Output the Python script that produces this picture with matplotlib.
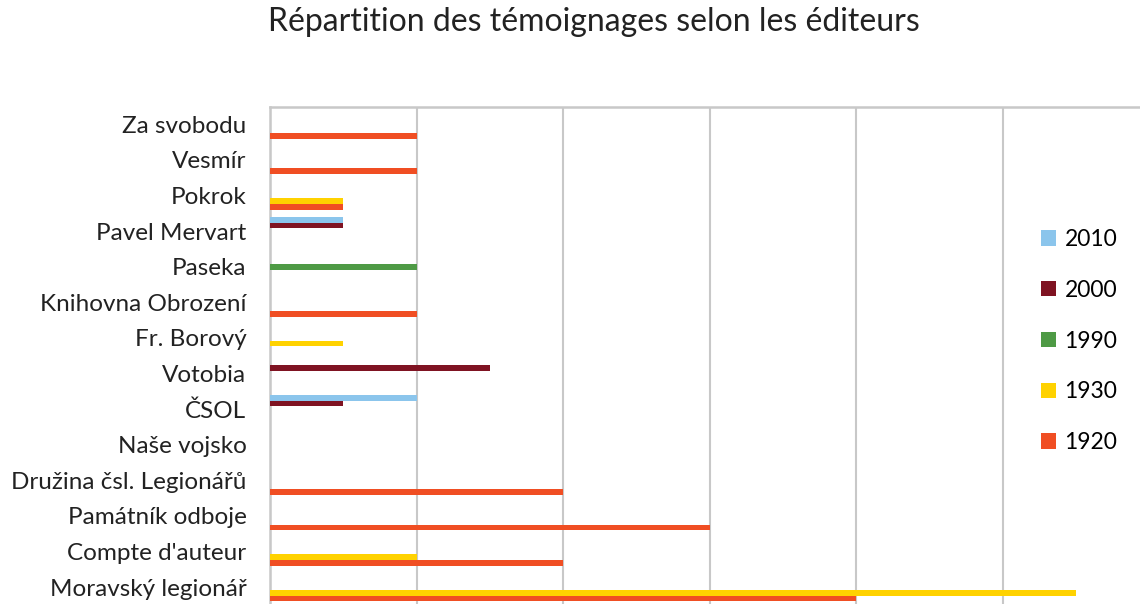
import numpy as np
import matplotlib
matplotlib.use("Agg")
import matplotlib.pyplot as plt
from matplotlib.patches import Patch

# publishers, top to bottom as in the chart
editeurs = ["Za svobodu", "Vesmír", "Pokrok", "Pavel Mervart", "Paseka",
            "Knihovna Obrození", "Fr. Borový", "Votobia", "ČSOL", "Naše vojsko",
            "Družina čsl. Legionářů", "Památník odboje", "Compte d'auteur",
            "Moravský legionář"]

v1920 = [2, 2, 1, 0, 0, 2, 0, 0, 0, 0, 4, 6, 4, 8]
v1930 = [0, 0, 1, 0, 0, 0, 1, 0, 0, 0, 0, 0, 2, 11]
v1990 = [0, 0, 0, 0, 2, 0, 0, 0, 0, 0, 0, 0, 0, 0]
v2000 = [0, 0, 0, 1, 0, 0, 0, 3, 1, 0, 0, 0, 0, 0]
v2010 = [0, 0, 0, 1, 0, 0, 0, 0, 2, 0, 0, 0, 0, 0]

series = [("1920", v1920, "#F04E23"),
          ("1930", v1930, "#FFD200"),
          ("1990", v1990, "#4E9A45"),
          ("2000", v2000, "#7F1322"),
          ("2010", v2010, "#8BC5EC")]

plt.rcParams['font.family'] = ['Lato', 'DejaVu Sans']

fig = plt.figure(figsize=(11.4, 6.04), dpi=100)
ax = fig.add_axes([270/1140, -1/604, 879.6/1140, 498.5/604])

n = len(editeurs)
y = np.arange(n)[::-1]
h = 0.16
for k, (nom, vals, col) in enumerate(series):
    ax.barh(y + (k - 2)*h, vals, height=h, color=col, zorder=3)

ax.set_ylim(-0.5, n - 0.5)
ax.set_xlim(0, 12)
ax.set_xticks(np.arange(0, 13, 2))
ax.set_yticks(y)
ax.set_yticklabels(editeurs, fontsize=17.5, color="#222222")
ax.tick_params(axis='y', length=0, pad=17)
ax.tick_params(axis='x', length=0, labelbottom=False)
ax.grid(axis='x', color="#C8C8C8", linewidth=1.5, zorder=0)
for s in ["right", "bottom"]:
    ax.spines[s].set_visible(False)
for s in ["left", "top"]:
    ax.spines[s].set_color("#C8C8C8")
    ax.spines[s].set_linewidth(1.8)

handles = [Patch(facecolor=col, label=nom) for nom, vals, col in series[::-1]]
fig.legend(handles=handles, loc='center left', bbox_to_anchor=(1030/1140, 1 - 341/604),
           frameon=False, fontsize=16.5, handlelength=0.65, handleheight=0.65,
           handletextpad=0.35, labelspacing=1.3, borderpad=0)

fig.text(594/1140, 1 - 22/604, "Répartition des témoignages selon les éditeurs",
         ha='center', va='center', fontsize=23, color="#222222")

fig.savefig("out.png", dpi=100)
